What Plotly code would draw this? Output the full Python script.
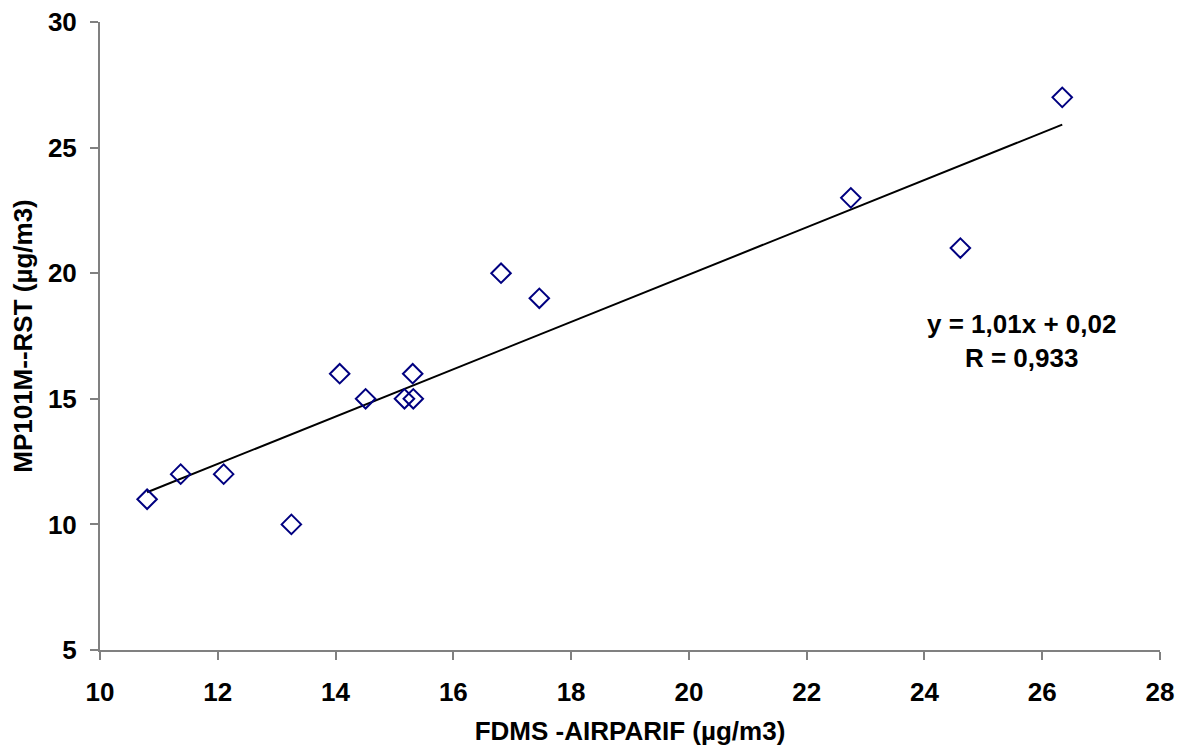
import numpy as np
import plotly.graph_objects as go

# Data
fdms_airparif = [10.80, 11.37, 12.10, 13.25, 14.07, 14.51, 15.17, 15.31, 15.32, 16.81, 17.46, 22.75, 24.61, 26.34]
mp101m_rst = [11, 12, 12, 10, 16, 15, 15, 16, 15, 20, 19, 23, 21, 27]

x_title = "FDMS -AIRPARIF (µg/m3)"
y_title = "MP101M--RST (µg/m3)"
equation_lines = ["y = 1,01x + 0,02", "R = 0,933"]

# Linear trendline (least squares) over the data range
slope, intercept = np.polyfit(fdms_airparif, mp101m_rst, 1)
tx = np.array([min(fdms_airparif), max(fdms_airparif)])
ty = slope * tx + intercept

font_family = "Liberation Sans, Arial, sans-serif"
FS = 26

fig = go.Figure()
fig.add_trace(go.Scatter(
    x=tx, y=ty, mode="lines",
    line=dict(color="black", width=2),
    showlegend=False, hoverinfo="skip",
))
fig.add_trace(go.Scatter(
    x=fdms_airparif, y=mp101m_rst, mode="markers",
    marker=dict(symbol="diamond-open", size=15, color="#000080",
                line=dict(color="#000080", width=2)),
    showlegend=False,
))

fig.add_annotation(
    x=25.65, y=17.3, xref="x", yref="y",
    text="<br>".join("<b>" + s + "</b>" for s in equation_lines),
    showarrow=False, align="center",
    font=dict(family=font_family, size=FS, color="black"),
)

axis_common = dict(
    showgrid=False, zeroline=False, automargin=False,
    showline=True, linecolor="#808080", linewidth=2,
    ticks="outside", ticklen=8, tickwidth=2, tickcolor="#808080",
    tickfont=dict(family=font_family, size=FS, color="black", weight="bold"),
    title_font=dict(family=font_family, size=FS, color="black", weight="bold"),
)

fig.update_xaxes(range=[10, 28], dtick=2, tick0=10, title_text=x_title,
                 ticklabelstandoff=10, title_standoff=20, **axis_common)
fig.update_yaxes(range=[5, 30], dtick=5, tick0=5, title_text=y_title,
                 ticklabelstandoff=8, title_standoff=8, **axis_common)

fig.update_layout(
    width=1183, height=746,
    margin=dict(l=100, r=23, t=22, b=96),
    plot_bgcolor="white", paper_bgcolor="white",
    font=dict(family=font_family),
)

fig.write_html("out.html")
